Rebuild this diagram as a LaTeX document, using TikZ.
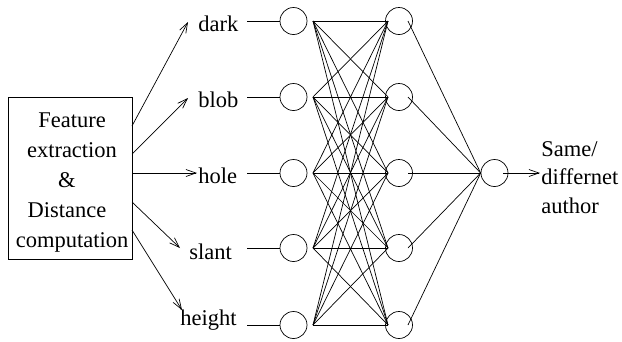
\documentclass[tikz,border=0pt]{standalone}
\usepackage{fontspec}
\setmainfont{Liberation Serif}
\usetikzlibrary{arrows.meta,calc}
\begin{document}
\begin{tikzpicture}[x=1pt,y=-1pt,line width=0.7pt,
  neuron/.style={draw,circle,minimum size=27pt,inner sep=0pt},
  lbl/.style={anchor=base west,inner sep=0pt,font=\fontsize{22.5}{30}\selectfont},
  arr/.style={-{Straight Barb[length=10pt,width=7pt,line width=0.7pt]}}]
\useasboundingbox (0,0) rectangle (622,341);
% feature box
\node[draw,minimum width=124pt,minimum height=162pt,inner sep=0pt,anchor=north west] (box) at (8,97) {};
\node[align=center,inner sep=0pt,anchor=base,font=\fontsize{22.5}{30}\selectfont] (boxtxt) at (72,247)
  {Feature\\extraction\\\hspace*{-10pt}\&\\\hspace*{-10pt}Distance\\computation};
% rows
\foreach \k/\y/\lx/\by/\t in {1/21/198/31/dark,2/97/198/107/blob,3/173/198/183/hole,4/248/189/259/slant,5/325/180/325/height}{
  \node[lbl] (t\k) at (\lx,\by) {\t};
  \node[neuron] (i\k) at (293.5,\y) {};
  \node[neuron] (h\k) at (399,\y) {};
  \coordinate (l\k) at (247,\y);
  \coordinate (s\k) at (313,\y);
  \coordinate (e\k) at (388,\y);
  \coordinate (g\k) at (408,\y);
  \draw (l\k) -- (i\k.west);
}
\node[neuron] (o) at (494.5,173) {};
% box to labels
\coordinate (b1) at (132,126); \coordinate (a1) at (188,22);
\coordinate (b2) at (132,154); \coordinate (a2) at (188,98);
\coordinate (b3) at (132,173); \coordinate (a3) at (197,173);
\coordinate (b4) at (132,202); \coordinate (a4) at (180,248);
\coordinate (b5) at (132,230); \coordinate (a5) at (182,310);
\foreach \k in {1,...,5}{\draw[arr] (b\k) -- (a\k);}
% input to hidden
\foreach \a in {1,...,5}{\foreach \b in {1,...,5}{\draw (s\a) -- (e\b);}}
% hidden to output
\foreach \b in {1,...,5}{\draw (g\b) -- (o.west);}
% output
\coordinate (oe) at (503,173);
\coordinate (oa) at (540,173);
\draw[arr] (oe) -- (oa);
\node[lbl] (res) at (541,156) {Same/};
\node[lbl] (res2) at (541,184) {differnet};
\node[lbl] (res3) at (541,213) {author};
\end{tikzpicture}
\end{document}
